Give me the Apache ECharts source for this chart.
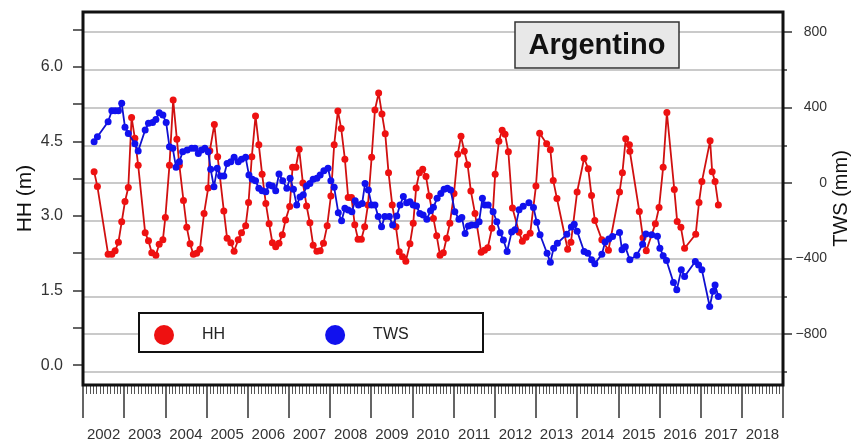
<!DOCTYPE html>
<html>
<head>
<meta charset="utf-8">
<script src="https://cdn.jsdelivr.net/npm/echarts@6/dist/echarts.min.js"></script>
<style>
html,body{margin:0;padding:0;background:#fff;}
#chart{width:853px;height:441px;}
</style>
</head>
<body>
<div id="chart"></div>
<script>
// ---- data ----
const yearLabels = ['2002','2003','2004','2005','2006','2007','2008','2009','2010','2011','2012','2013','2014','2015','2016','2017','2018'];

const hhYears = [2002.27,2002.35,2002.61,2002.70,2002.78,2002.86,2002.94,2003.02,2003.10,2003.18,2003.26,2003.34,2003.51,2003.59,2003.67,2003.77,2003.85,2003.94,2004.00,2004.10,2004.19,2004.28,2004.34,2004.44,2004.52,2004.60,2004.68,2004.76,2004.84,2004.94,2005.04,2005.08,2005.19,2005.27,2005.42,2005.50,2005.59,2005.67,2005.77,2005.85,2005.95,2006.02,2006.10,2006.19,2006.27,2006.35,2006.44,2006.52,2006.60,2006.68,2006.76,2006.84,2006.92,2007.02,2007.09,2007.17,2007.25,2007.34,2007.43,2007.51,2007.59,2007.68,2007.76,2007.84,2007.93,2008.02,2008.10,2008.19,2008.27,2008.36,2008.44,2008.52,2008.60,2008.68,2008.76,2008.84,2008.92,2009.01,2009.09,2009.18,2009.26,2009.34,2009.42,2009.51,2009.60,2009.68,2009.76,2009.84,2009.94,2010.02,2010.09,2010.17,2010.25,2010.33,2010.41,2010.51,2010.59,2010.67,2010.75,2010.83,2010.91,2011.01,2011.10,2011.18,2011.26,2011.34,2011.42,2011.52,2011.67,2011.75,2011.83,2011.93,2012.01,2012.10,2012.18,2012.25,2012.33,2012.43,2012.59,2012.67,2012.76,2012.86,2013.00,2013.09,2013.26,2013.35,2013.42,2013.51,2013.77,2013.85,2014.00,2014.17,2014.27,2014.35,2014.43,2014.60,2014.76,2015.03,2015.10,2015.18,2015.27,2015.28,2015.51,2015.60,2015.68,2015.90,2015.99,2016.09,2016.18,2016.36,2016.43,2016.52,2016.61,2016.88,2016.96,2017.03,2017.23,2017.28,2017.35,2017.43];
const hhValues = [3.89,3.59,2.23,2.23,2.30,2.47,2.88,3.29,3.57,4.98,4.56,4.02,2.66,2.50,2.26,2.21,2.43,2.52,2.97,4.02,5.33,4.54,4.02,3.31,2.77,2.44,2.23,2.25,2.33,3.05,3.56,4.31,4.84,4.19,3.10,2.55,2.46,2.29,2.52,2.66,2.80,3.27,4.19,5.01,4.43,3.84,3.25,2.84,2.46,2.38,2.45,2.62,2.92,3.19,3.98,3.98,4.34,3.66,3.20,2.86,2.41,2.29,2.30,2.45,2.80,3.40,4.43,5.11,4.76,4.14,3.37,3.37,2.82,2.53,2.53,2.78,3.22,4.18,5.13,5.47,5.05,4.65,3.87,3.22,2.78,2.28,2.18,2.09,2.44,2.85,3.56,3.87,3.94,3.79,3.40,2.95,2.60,2.21,2.26,2.55,2.85,3.45,4.24,4.60,4.30,4.03,3.50,3.05,2.27,2.31,2.36,2.75,3.84,4.50,4.72,4.64,4.29,3.16,2.67,2.49,2.57,2.65,3.60,4.66,4.45,4.33,3.71,3.35,2.33,2.47,3.48,4.16,3.95,3.41,2.91,2.52,2.31,3.48,3.87,4.55,4.43,4.30,3.09,2.56,2.30,2.84,3.17,3.98,5.08,3.53,2.89,2.77,2.35,2.63,3.27,3.69,4.51,3.89,3.69,3.22];

const twsYears = [2002.27,2002.35,2002.61,2002.70,2002.78,2002.86,2002.94,2003.02,2003.10,2003.26,2003.34,2003.51,2003.59,2003.69,2003.77,2003.85,2003.94,2004.02,2004.10,2004.18,2004.26,2004.34,2004.42,2004.53,2004.64,2004.72,2004.80,2004.88,2004.96,2005.04,2005.10,2005.18,2005.26,2005.34,2005.42,2005.50,2005.59,2005.67,2005.77,2005.85,2005.95,2006.03,2006.11,2006.19,2006.27,2006.35,2006.44,2006.52,2006.60,2006.68,2006.76,2006.85,2006.95,2007.03,2007.11,2007.19,2007.27,2007.35,2007.43,2007.51,2007.59,2007.68,2007.76,2007.85,2007.95,2008.02,2008.10,2008.20,2008.28,2008.36,2008.44,2008.53,2008.61,2008.69,2008.78,2008.85,2008.93,2009.01,2009.09,2009.17,2009.25,2009.33,2009.44,2009.52,2009.62,2009.70,2009.78,2009.86,2009.94,2010.02,2010.10,2010.18,2010.26,2010.35,2010.44,2010.51,2010.60,2010.69,2010.77,2010.85,2010.93,2011.03,2011.13,2011.20,2011.28,2011.36,2011.44,2011.54,2011.62,2011.70,2011.76,2011.84,2011.96,2012.05,2012.13,2012.21,2012.30,2012.41,2012.49,2012.59,2012.69,2012.83,2012.94,2013.02,2013.10,2013.27,2013.35,2013.43,2013.52,2013.75,2013.86,2013.93,2014.00,2014.17,2014.26,2014.35,2014.43,2014.60,2014.68,2014.77,2014.86,2015.03,2015.09,2015.17,2015.28,2015.45,2015.59,2015.67,2015.81,2015.95,2016.01,2016.09,2016.17,2016.34,2016.42,2016.53,2016.61,2016.87,2016.95,2017.03,2017.22,2017.30,2017.35,2017.43];
const twsValues = [219,245,325,383,383,383,422,295,263,208,170,281,316,320,337,372,360,320,192,184,83,113,166,175,184,184,157,175,184,166,73,-20,78,37,37,104,113,136,113,126,136,42,20,12,-28,-41,-46,-11,-16,-41,48,12,-28,25,-33,-117,-74,-62,-16,-2,20,25,42,65,78,12,-23,-157,-200,-134,-143,-152,-94,-117,-108,-2,-37,-117,-117,-178,-231,-178,-178,-223,-175,-117,-72,-104,-99,-117,-122,-161,-170,-192,-147,-129,-81,-55,-33,-28,-37,-152,-192,-182,-267,-228,-223,-223,-205,-81,-117,-117,-152,-205,-263,-302,-363,-259,-248,-142,-123,-105,-130,-208,-274,-372,-420,-345,-319,-272,-233,-219,-255,-363,-372,-407,-428,-378,-312,-297,-283,-262,-354,-338,-407,-382,-324,-270,-274,-282,-345,-385,-410,-527,-566,-460,-495,-416,-434,-460,-654,-574,-540,-601];

const hhTicks = [0,0.75,1.5,2.25,3,3.75,4.5,5.25,6,6.75];
const hhLabels = [0,1.5,3,4.5,6];
const twsMajor = [-800,-400,0,400,800];
const twsMinor = [-1000,-800,-600,-400,-200,0,200,400,600,800];

// ---- chart ----
const FONT = '"Liberation Sans", Arial, sans-serif';
const chart = echarts.init(document.getElementById('chart'), null, {renderer:'canvas'});
const zip = (xs, ys) => xs.map((x, i) => [x, ys[i]]);

const option = {
  animation: false,
  backgroundColor: '#ffffff',
  textStyle: {fontFamily: FONT},
  grid: {left: 83, right: 70, top: 12, bottom: 56, containLabel: false, outerBoundsMode: 'none'},
  legend: {
    data: ['HH', 'TWS'],
    left: 149, top: 320,
    icon: 'circle', itemWidth: 20, itemHeight: 20, itemGap: 100,
    textStyle: {fontSize: 16, color: '#222', fontFamily: FONT, padding: [0,0,0,23]},
    z: 50
  },
  xAxis: [
    {
      type: 'value', min: 2002, max: 2019, interval: 1, position: 'bottom',
      axisLine: {show: false, onZero: false},
      axisTick: {show: true, inside: false, length: 33, lineStyle: {color: '#333', width: 1.5}},
      minorTick: {show: true, splitNumber: 12, length: 9, lineStyle: {color: '#555', width: 1}},
      axisLabel: {show: false},
      splitLine: {show: false}
    },
    {
      type: 'category', data: yearLabels, boundaryGap: true, position: 'bottom',
      axisLine: {show: false, onZero: false}, axisTick: {show: false},
      axisLabel: {margin: 42, fontSize: 15, color: '#333', fontFamily: FONT, interval: 0},
      splitLine: {show: false}
    }
  ],
  yAxis: [
    {
      type: 'value', min: -0.4, max: 7.1, position: 'left',
      axisLine: {show: false, onZero: false},
      axisTick: {show: true, customValues: hhTicks, length: 10, lineStyle: {color: '#333', width: 1.5}},
      axisLabel: {customValues: hhLabels, formatter: v => v.toFixed(1), margin: 20, fontSize: 16, color: '#333', fontFamily: FONT},
      splitLine: {show: false},
      name: 'HH (m)', nameLocation: 'middle', nameRotate: 90, nameGap: 47, nameMoveOverlap: false,
      nameTextStyle: {fontSize: 21, color: '#111', fontFamily: FONT}
    },
    {
      type: 'value', min: -1070, max: 906, position: 'right',
      axisLine: {show: false, onZero: false},
      axisTick: {show: true, customValues: twsMajor, length: 9, lineStyle: {color: '#333', width: 1.5}},
      axisLabel: {customValues: twsMajor, formatter: v => String(v).replace('-', '\u2212'), align: 'right', margin: 44, fontSize: 14, color: '#333', fontFamily: FONT},
      splitLine: {show: false},
      name: 'TWS (mm)', nameLocation: 'middle', nameRotate: 90, nameGap: 48, nameMoveOverlap: false,
      nameTextStyle: {fontSize: 20, color: '#111', fontFamily: FONT}
    },
    {
      type: 'value', min: -1070, max: 906, position: 'right',
      axisLine: {show: false, onZero: false},
      axisTick: {show: true, customValues: twsMinor, length: 4, lineStyle: {color: '#333', width: 1.5}},
      axisLabel: {show: false},
      splitLine: {show: true, lineStyle: {color: '#b8b8b8', width: 1.5}}
    }
  ],
  series: [
    {
      name: 'HH', type: 'line', xAxisIndex: 0, yAxisIndex: 0,
      data: zip(hhYears, hhValues),
      symbol: 'circle', symbolSize: 7,
      itemStyle: {color: '#ee1111'},
      lineStyle: {color: '#d01010', width: 1.8},
      z: 3
    },
    {
      name: 'TWS', type: 'line', xAxisIndex: 0, yAxisIndex: 1,
      data: zip(twsYears, twsValues),
      symbol: 'circle', symbolSize: 7,
      itemStyle: {color: '#1111ee'},
      lineStyle: {color: '#1010d0', width: 1.8},
      z: 4
    }
  ],
  graphic: [
    {type: 'rect', shape: {x: 83, y: 12, width: 700, height: 373}, style: {fill: 'none', stroke: '#111', lineWidth: 3}, z: 20, silent: true},
    {type: 'rect', shape: {x: 515, y: 22, width: 164, height: 46}, style: {fill: '#e8e8e8', stroke: '#333', lineWidth: 1.5}, z: 20, silent: true},
    {type: 'text', x: 597, y: 46, style: {text: 'Argentino', fill: '#111', font: 'bold 29px ' + FONT, align: 'center', verticalAlign: 'middle'}, z: 21, silent: true},
    {type: 'rect', shape: {x: 139, y: 313, width: 344, height: 39}, style: {fill: '#fff', stroke: '#111', lineWidth: 2}, z: 20, silent: true}
  ]
};
chart.setOption(option);
</script>
</body>
</html>
